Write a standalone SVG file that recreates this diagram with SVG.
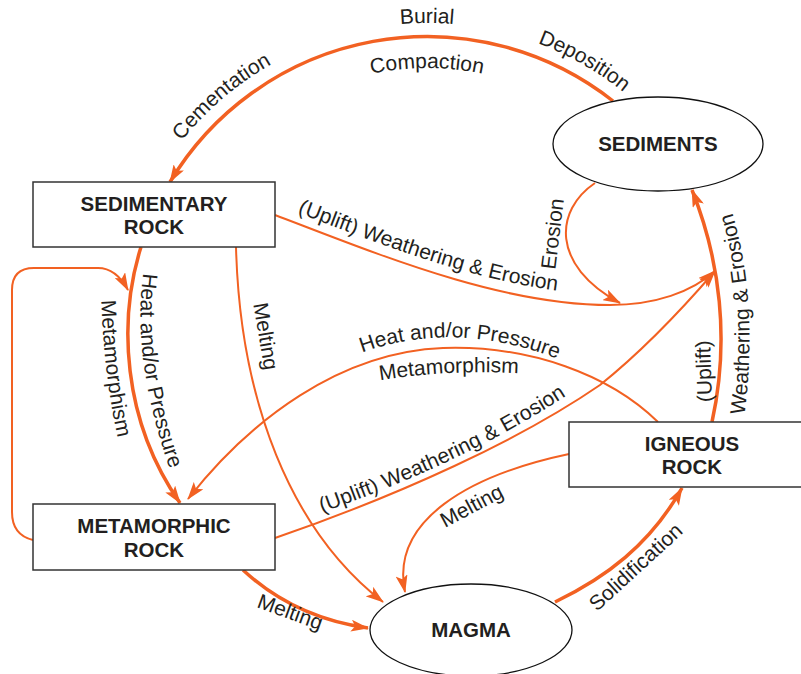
<svg xmlns="http://www.w3.org/2000/svg" width="801" height="674" viewBox="0 0 801 674">
<style>
.box{fill:#fff;stroke:#333;stroke-width:1.5}
.ell{fill:#fff;stroke:#111;stroke-width:1.3}
.nt{font-family:"Liberation Sans",Arial,sans-serif;font-weight:bold;font-size:20.5px;fill:#231f20;text-anchor:middle}
.lb{font-family:"Liberation Sans",Arial,sans-serif;font-size:21px;fill:#231f20}
.thick{fill:none;stroke:#F26122;stroke-width:3.5}
.thin{fill:none;stroke:#F26122;stroke-width:2}
.arr{marker-end:url(#ah)}
</style>
<defs>
<marker id="ah" markerUnits="userSpaceOnUse" markerWidth="18" markerHeight="12" refX="17" refY="6" orient="auto" viewBox="0 0 18 12"><path d="M0,0 L18,6 L0,12 L4,6 z" fill="#F26122"/></marker>
<path id="arcOut" d="M 113,337 A 314 314 0 0 1 741,337"/>
<path id="arcIn" d="M 158,337 A 269 269 0 0 1 696,337"/>
<path id="tpHp1" d="M 144,268 Q 130,360 172,475"/>
<path id="tpMeta1" d="M 101,296 Q 104,380 120,448"/>
<path id="tpMelt1" d="M 253,302 L 266,380"/>
<path id="tpWe1" d="M 275,204 C 380,244 500,294 610,294"/>
<path id="tpEros" d="M 555,272 L 565,190"/>
<path id="tpUpl" d="M 712,404 L 710,338"/>
<path id="tpWe2" d="M 744,418 Q 760,300 730,205"/>
<path id="tpHp2" d="M 340,362 Q 450,310 580,368"/>
<path id="tpMeta2" d="M 370,382 Q 450,368 530,374"/>
<path id="tpWe3" d="M 318,514 C 420,478 500,440 575,390"/>
</defs>
<rect width="801" height="674" fill="#fff"/>
<g id="connectors">
<path class="thick arr" d="M 613,101 A 300 300 0 0 0 170,182"/>
<path class="thick arr" d="M 141,247 C 118,320 122,420 180,503"/>
<path class="thin arr" d="M 33,540 Q 12,535 12,512 L 12,290 Q 12,268 34,268 L 98,268 Q 116,268 128,290"/>
<path class="thin arr" d="M 236,247 C 240,400 290,530 383,602"/>
<path class="thin arr" d="M 275,215 C 380,255 500,305 610,305 C 655,305 692,292 715,271"/>
<path class="thin arr" d="M 595,183 C 555,210 550,265 620,303"/>
<path class="thick arr" d="M 712,422 C 730,340 720,260 692,190"/>
<path class="thin arr" d="M 658,422 C 610,375 530,345 443,348 C 340,352 250,420 188,499"/>
<path class="thin arr" d="M 275,538 C 400,495 520,440 600,385 C 650,345 690,300 715,271"/>
<path class="thin arr" d="M 569,454 C 470,475 390,520 405,592"/>
<path class="thick arr" d="M 555,602 C 605,578 650,545 682,488"/>
<path class="thick arr" d="M 243,570 C 270,595 310,620 368,628"/>
</g>
<g id="labels">
<text class="lb" text-anchor="middle"><textPath href="#arcOut" startOffset="50%">Burial</textPath></text>
<text class="lb" text-anchor="middle"><textPath href="#arcOut" startOffset="27.5%">Cementation</textPath></text>
<text class="lb" text-anchor="middle"><textPath href="#arcOut" startOffset="66.5%">Deposition</textPath></text>
<text class="lb" text-anchor="middle"><textPath href="#arcIn" startOffset="50%">Compaction</textPath></text>
<text class="lb"><textPath href="#tpHp1" startOffset="5">Heat and/or Pressure</textPath></text>
<text class="lb"><textPath href="#tpMeta1" startOffset="4">Metamorphism</textPath></text>
<text class="lb"><textPath href="#tpMelt1" startOffset="2">Melting</textPath></text>
<text class="lb"><textPath href="#tpWe1" startOffset="24">(Uplift) Weathering &amp; Erosion</textPath></text>
<text class="lb"><textPath href="#tpEros" startOffset="2">Erosion</textPath></text>
<text class="lb"><textPath href="#tpUpl" startOffset="2">(Uplift)</textPath></text>
<text class="lb"><textPath href="#tpWe2" startOffset="3">Weathering &amp; Erosion</textPath></text>
<text class="lb"><textPath href="#tpHp2" startOffset="24">Heat and/or Pressure</textPath></text>
<text class="lb"><textPath href="#tpMeta2" startOffset="10">Metamorphism</textPath></text>
<text class="lb"><textPath href="#tpWe3" startOffset="4">(Uplift) Weathering &amp; Erosion</textPath></text>
<text class="lb" transform="translate(445,528) rotate(-28)">Melting</text>
<text class="lb" transform="translate(597,612) rotate(-42.5)">Solidification</text>
<text class="lb" transform="translate(256,607) rotate(20)">Melting</text>
</g>
<g id="sediments"><ellipse class="ell" cx="658" cy="144" rx="105" ry="47"/><text class="nt" x="658" y="151">SEDIMENTS</text></g>
<g id="sedimentary-rock"><rect class="box" x="33" y="182" width="242" height="65"/><text class="nt" x="154" y="211">SEDIMENTARY</text><text class="nt" x="154" y="234">ROCK</text></g>
<g id="metamorphic-rock"><rect class="box" x="33" y="504" width="242" height="66"/><text class="nt" x="154" y="533">METAMORPHIC</text><text class="nt" x="154" y="557">ROCK</text></g>
<g id="igneous-rock"><rect class="box" x="569" y="422" width="240" height="65"/><text class="nt" x="692" y="451">IGNEOUS</text><text class="nt" x="692" y="474">ROCK</text></g>
<g id="magma"><ellipse class="ell" cx="471" cy="630" rx="101" ry="46"/><text class="nt" x="471" y="637">MAGMA</text></g>
</svg>
